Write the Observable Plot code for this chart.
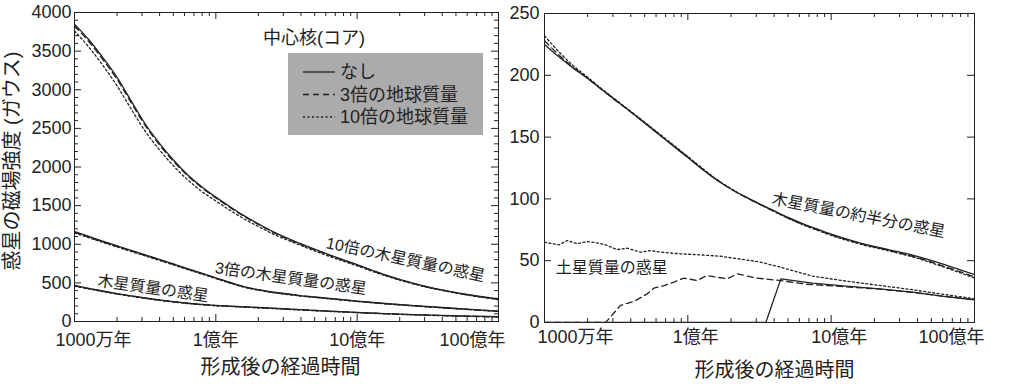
<!DOCTYPE html>
<html><head><meta charset="utf-8">
<script src="https://cdn.jsdelivr.net/npm/d3@7"></script>
<script src="https://cdn.jsdelivr.net/npm/@observablehq/plot@0.6"></script>
<style>
html,body{margin:0;padding:0;background:#fff;}
#wrap{position:relative;display:flex;width:1024px;height:384px;overflow:hidden;}
#wrap svg{display:block;}
.lg{position:absolute;font-family:"Liberation Sans","Noto Sans CJK JP",sans-serif;color:#222;}
</style></head>
<body><div id="wrap"></div>
<script>
// ---------- data ----------
const xTickValues = [1e7, 1e8, 1e9, 1e10];
const xTickLabels = ["1000万年", "1億年", "10億年", "100億年"];
const xMinorTicks = [2e7,3e7,4e7,5e7,6e7,7e7,8e7,9e7,2e8,3e8,4e8,5e8,6e8,7e8,8e8,9e8,2e9,3e9,4e9,5e9,6e9,7e9,8e9,9e9];
const leftYTicks = [0,500,1000,1500,2000,2500,3000,3500,4000];
const rightYTicks = [0,50,100,150,200,250];

const legendTitle = "中心核(コア)";
const coreTypes = ["なし", "3倍の地球質量", "10倍の地球質量"];

// left panel: time (years) and field strength (gauss)
const leftT = [1e7,1.26e7,1.58e7,2e7,2.51e7,3.16e7,3.98e7,5.01e7,6.31e7,7.94e7,1e8,1.26e8,1.58e8,2e8,2.51e8,3.98e8,6.31e8,1e9,1.58e9,2.51e9,3.98e9,6.31e9,1e10];
const jup10_none   = [3850,3650,3420,3160,2860,2560,2310,2090,1900,1745,1610,1485,1370,1264,1167,1007,865,735,605,495,410,343,290];
const jup10_core3  = [3825,3625,3395,3135,2835,2540,2290,2075,1888,1733,1600,1476,1362,1257,1160,1000,858,729,600,491,407,340,287];
const jup10_core10 = [3760,3555,3320,3050,2755,2465,2225,2015,1835,1685,1560,1440,1330,1230,1138,985,845,720,592,485,402,336,284];
const jup3_none    = [1165,1102,1040,980,922,863,805,745,685,625,565,505,452,412,382,336,300,264,233,206,181,157,135];
const jup3_core3   = [1155,1094,1033,973,915,857,799,740,680,621,561,502,449,409,379,333,297,261,231,204,179,155,133];
const jup3_core10  = [1145,1085,1025,965,907,849,791,732,673,614,555,496,444,405,375,330,294,259,229,202,177,153,131];
const jup1_none    = [466,430,395,362,333,305,280,258,238,221,208,199,190,181,172,153,135,118,103,90,79,70,63];
const jup1_core3   = [462,426,392,359,330,302,277,255,235,219,206,197,188,179,170,151,133,116,101,88,77,68,61];
const jup1_core10  = [458,422,388,355,327,299,274,252,233,217,204,195,186,177,168,149,131,114,99,86,75,66,59];
const leftLabels = ["10倍の木星質量の惑星", "3倍の木星質量の惑星", "木星質量の惑星"];
const leftLabelT = [2.2e9, 3.4e8, 3.6e7];
const leftLabelV = [800, 556, 427];
const leftLabelAngle = [12, 8, 8];

// right panel
const rightT = [1e7,1.26e7,1.58e7,2e7,2.51e7,3.16e7,3.98e7,5.01e7,6.31e7,7.94e7,1e8,1.26e8,1.58e8,2e8,2.51e8,3.16e8,3.98e8,5.01e8,6.31e8,7.94e8,1e9,1.58e9,2.51e9,3.98e9,6.31e9,1e10];
const half_none   = [225,215,206,197.5,188.5,179.5,170.5,161.3,152,142.7,133.5,124,115.5,108,101.8,96,90.5,85,80,75.7,71.5,64.5,59,53.5,46.5,38.8];
const half_core3  = [228,216.5,206.5,197.5,188.3,179.3,170.5,161.5,152.3,143,133.8,124.3,115.8,108,101.5,95.7,90,84.5,79.5,75.2,71,64,58.5,52.5,45,37];
const half_core10 = [232,219,208,198.5,189,180,171,162,152.8,143.5,134.3,124.8,116,108.3,101.7,95.8,90,84.3,79.2,74.8,70.5,63.5,58,52,44.3,36];
const satNoneT  = [1e7,3.5e8,4.46e8,7.41e8,1.27e9,2.17e9,3.7e9,6.31e9,1e10];
const sat_none  = [0,0,35.3,31.8,29.4,27.2,24.5,21,18.3];
const satCore3T = [1e7,2.67e7,3.39e7,4.2e7,5.21e7,5.79e7,6.81e7,7.98e7,9.38e7,1.16e8,1.36e8,1.88e8,2.21e8,2.99e8,4.35e8,6.67e8,1.02e9,2.17e9,3.7e9,6.31e9,1e10];
const sat_core3 = [0,0,13.8,17,23.2,27.8,29.9,32.6,35.9,34,38,35.3,39.4,36,34,31,29.6,27,24.3,21,18.5];
const satCore10T = [1e7,1.26e7,1.44e7,1.69e7,1.99e7,2.39e7,2.74e7,3.21e7,3.78e7,4.68e7,5.5e7,6.46e7,8.89e7,1.23e8,1.69e8,2.27e8,3.16e8,4.35e8,7.41e8,1.27e9,2.17e9,3.7e9,6.31e9,1e10];
const sat_core10 = [65,62.8,66.3,63.7,65.5,64.2,62.3,59,60.1,56.9,58.2,56.9,55.6,54.7,53.6,51.5,49,45,37.5,33.5,30,26.5,22.5,19.2];
const rightLabels = ["木星質量の約半分の惑星", "土星質量の惑星"];
const rightLabelT = [1.55e9, 2.94e7];
const rightLabelV = [86.6, 44.5];
const rightLabelAngle = [11, 0];

const xTitle = "形成後の経過時間";
const yTitle = "惑星の磁場強度 (ガウス)";

// ---------- drawing ----------
const INK = "#222";
const FONT = "'Liberation Sans','Noto Sans CJK JP',sans-serif";
const rows = (T, V) => T.map((t, i) => ({t, v: V[i]}));
const DASH = "6,4", DOT = "2,2.5";

function axisMarks(innerW, innerH, yMajor, yMinor, xl) {
  const M = 7, m = 4;
  const lbl = {frameAnchor: "bottom", lineAnchor: "middle", dy: xl.dy, fontSize: 18, fill: INK};
  const marks = [
    Plot.frame({stroke: INK, strokeWidth: 1}),
    Plot.ruleX(xTickValues, {x: d => d, insetTop: innerH - M, stroke: INK}),
    Plot.ruleX(xTickValues, {x: d => d, insetBottom: innerH - M, stroke: INK}),
    Plot.ruleX(xMinorTicks, {x: d => d, insetTop: innerH - m, stroke: INK}),
    Plot.ruleX(xMinorTicks, {x: d => d, insetBottom: innerH - m, stroke: INK}),
    Plot.ruleY(yMajor, {y: d => d, insetRight: innerW - M, stroke: INK}),
    Plot.ruleY(yMajor, {y: d => d, insetLeft: innerW - M, stroke: INK}),
    Plot.text(yMajor, {y: d => d, frameAnchor: "left", lineAnchor: "middle", textAnchor: "end", dx: xl.ydx, dy: 0, text: d => String(d), fontSize: 18, fill: INK}),
    Plot.text([0], {...lbl, x: i => xTickValues[i], textAnchor: "start", dx: xl.first, text: i => xTickLabels[i]}),
    Plot.text([1, 2], {...lbl, x: i => xTickValues[i], textAnchor: "middle", dx: xl.mid, text: i => xTickLabels[i]}),
    Plot.text([3], {...lbl, x: i => xTickValues[i], textAnchor: "end", dx: xl.last, text: i => xTickLabels[i]}),
    Plot.text([xTitle], {frameAnchor: "bottom", lineAnchor: "middle", dx: xl.tdx, dy: xl.tdy, text: d => d, fontSize: 20, fill: INK})
  ];
  if (yMinor.length) {
    marks.push(Plot.ruleY(yMinor, {y: d => d, insetRight: innerW - m, stroke: INK}));
    marks.push(Plot.ruleY(yMinor, {y: d => d, insetLeft: innerW - m, stroke: INK}));
  }
  return marks;
}

function lineSet(specs) {
  return specs.map(([T, V, dash, curve]) =>
    Plot.line(rows(T, V), {x: "t", y: "v", stroke: INK, strokeWidth: 1.3, strokeDasharray: dash, curve: curve, clip: true}));
}

const leftMinor = d3.range(100, 4000, 100).filter(v => v % 500 !== 0);

const left = Plot.plot({
  width: 512, height: 384,
  marginLeft: 74, marginRight: 14, marginTop: 12, marginBottom: 63,
  x: {type: "log", domain: [1e7, 1e10], axis: null},
  y: {domain: [0, 4000], axis: null},
  style: {fontFamily: FONT, color: INK, background: "white", overflow: "visible"},
  marks: [
    ...lineSet([
      [leftT, jup10_core10, DOT, "monotone-x"], [leftT, jup10_core3, DASH, "monotone-x"], [leftT, jup10_none, null, "monotone-x"],
      [leftT, jup3_core10, DOT, "monotone-x"], [leftT, jup3_core3, DASH, "monotone-x"], [leftT, jup3_none, null, "monotone-x"],
      [leftT, jup1_core10, DOT, "monotone-x"], [leftT, jup1_core3, DASH, "monotone-x"], [leftT, jup1_none, null, "monotone-x"]
    ]),
    Plot.text(leftLabels, {x: (d, i) => leftLabelT[i], y: (d, i) => leftLabelV[i], rotate: (d, i) => leftLabelAngle[i], text: d => d, fontSize: 16, fill: INK}),
    ...axisMarks(424, 309, leftYTicks, leftMinor, {ydx: -3, first: -19, mid: 0, last: 7, dy: 19, tdx: -6, tdy: 46})
  ]
});

const right = Plot.plot({
  width: 512, height: 384,
  marginLeft: 32, marginRight: 50, marginTop: 13, marginBottom: 62,
  x: {type: "log", domain: [1e7, 1e10], axis: null},
  y: {domain: [0, 250], axis: null},
  style: {fontFamily: FONT, color: INK, background: "white", overflow: "visible"},
  marks: [
    ...lineSet([
      [rightT, half_core10, DOT, "monotone-x"], [rightT, half_core3, DASH, "monotone-x"], [rightT, half_none, null, "monotone-x"],
      [satCore10T, sat_core10, DOT, "linear"], [satCore3T, sat_core3, DASH, "linear"], [satNoneT, sat_none, null, "linear"]
    ]),
    Plot.text(rightLabels, {x: (d, i) => rightLabelT[i], y: (d, i) => rightLabelV[i], rotate: (d, i) => rightLabelAngle[i], text: d => d, fontSize: 16, fill: INK}),
    ...axisMarks(430, 309, rightYTicks, [], {ydx: -5, first: -7, mid: 8, last: 10, dy: 15, tdx: 15, tdy: 48})
  ]
});

const wrap = document.getElementById("wrap");
wrap.appendChild(left);
wrap.appendChild(right);

// y-axis title of the left panel
const yt = document.createElement("div");
yt.className = "lg";
yt.style.cssText = "left:12px;top:161px;font-size:20px;line-height:22px;white-space:nowrap;transform:translate(-50%,-50%) rotate(-90deg);";
yt.textContent = yTitle;
wrap.appendChild(yt);

// legend (core type) inside the left panel
const styles = [null, DASH, DOT];
const title = document.createElement("div");
title.className = "lg";
title.style.cssText = "left:263px;top:26px;font-size:18px;line-height:24px;";
title.textContent = legendTitle;
wrap.appendChild(title);
const box = document.createElement("div");
box.className = "lg";
box.style.cssText = "left:288px;top:53px;width:195px;height:82px;background:#ababab;";
const ns = "http://www.w3.org/2000/svg";
const svg = document.createElementNS(ns, "svg");
svg.setAttribute("width", 195); svg.setAttribute("height", 82);
coreTypes.forEach((name, i) => {
  const yy = 19 + i * 22.5;
  const ln = document.createElementNS(ns, "line");
  ln.setAttribute("x1", 15); ln.setAttribute("x2", 47);
  ln.setAttribute("y1", yy); ln.setAttribute("y2", yy);
  ln.setAttribute("stroke", INK); ln.setAttribute("stroke-width", 1.3);
  if (styles[i]) ln.setAttribute("stroke-dasharray", styles[i]);
  svg.appendChild(ln);
  const tx = document.createElementNS(ns, "text");
  tx.setAttribute("x", 52); tx.setAttribute("y", yy);
  tx.setAttribute("dominant-baseline", "central");
  tx.setAttribute("font-size", 18);
  tx.setAttribute("font-family", "Liberation Sans, Noto Sans CJK JP, sans-serif");
  tx.setAttribute("fill", INK);
  tx.textContent = name;
  svg.appendChild(tx);
});
box.appendChild(svg);
wrap.appendChild(box);
</script>
</body></html>
